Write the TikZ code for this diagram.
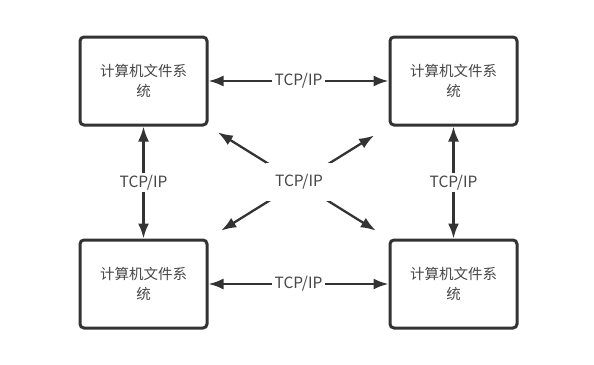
\documentclass[tikz,border=0pt]{standalone}
\usepackage{fontspec}
\setmainfont{Noto Sans CJK SC}
\usetikzlibrary{arrows.meta,calc,positioning}
\definecolor{Ink}{HTML}{333333}
\tikzset{fsbox/.style={rounded corners=4pt,draw=Ink,line width=3pt,fill=white,minimum width=127pt,minimum height=88pt,align=center,font=\fontsize{14.5}{19.5}\selectfont,text=Ink!90},link/.style={{Latex[length=15pt,width=11pt]}-{Latex[length=15pt,width=11pt]},line width=2.3pt,draw=Ink},tag/.style={fill=white,font=\fontsize{15.5}{17}\selectfont,text=Ink!90,inner xsep=3pt,inner ysep=2pt}}
\begin{document}
\begin{tikzpicture}[x=1pt,y=-1pt]
      \useasboundingbox (0,0) rectangle (594,364);
      \node[fsbox](tl) at (143.5,81){计算机文件系\\统};
      \node[fsbox](tr) at (453.5,81){计算机文件系\\统};
      \node[fsbox](bl) at (143.5,284){计算机文件系\\统};
      \node[fsbox](br) at (453.5,284){计算机文件系\\统};
      \draw[link](tl)--node[tag]{TCP/IP}(tr);\draw[link](bl)--node[tag]{TCP/IP}(br);
      \draw[link](tl)--node[tag]{TCP/IP}(bl);\draw[link](tr)--node[tag]{TCP/IP}(br);
      \draw[link,shorten <=11pt,shorten >=15pt](tl.south east)--(br.north west);
      \draw[link,shorten <=17pt,shorten >=15pt](tr.south west)--(bl.north east);
      \node[tag,minimum width=66pt,minimum height=38pt](mid) at (299,182){TCP/IP};
    \end{tikzpicture}
\end{document}
